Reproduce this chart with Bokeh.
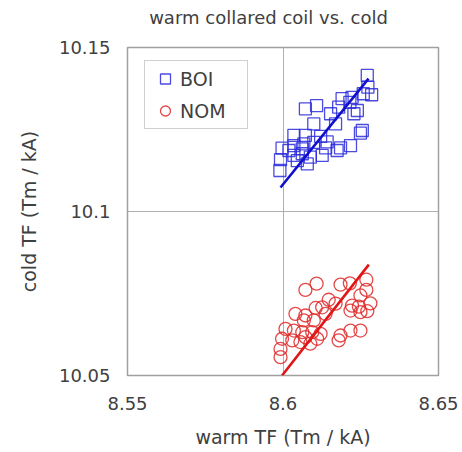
from bokeh.plotting import figure
from bokeh.models import (ColumnDataSource, FixedTicker, CustomJSTickFormatter,
                          Legend, LegendItem, Range1d, Label)
from bokeh.embed import file_html
from bokeh.resources import INLINE

# Transfer function, warm collared coil (x) vs. cold (y), in Tm / kA
boi_warm = [8.6271, 8.6273, 8.6285, 8.6258, 8.6222, 8.6190, 8.6215, 8.6072,
            8.6108, 8.6153, 8.6179, 8.6239, 8.6228, 8.6099, 8.6169, 8.6255,
            8.6249, 8.6035, 8.6072, 8.6121, 8.5997, 8.6035, 8.6067, 8.6099,
            8.6137, 8.6185, 8.6217, 8.6174, 8.6035, 8.6062, 8.6088, 8.6126,
            8.5992, 8.5990, 8.6046, 8.6078, 8.6142, 8.6062, 8.6019]
boi_cold = [10.1415, 10.1379, 10.1356, 10.1359, 10.1348, 10.1344, 10.1333, 10.1313,
            10.1323, 10.1298, 10.1318, 10.1308, 10.1298, 10.1267, 10.1267, 10.1247,
            10.1239, 10.1232, 10.1232, 10.1229, 10.1193, 10.1201, 10.1206, 10.1211,
            10.1194, 10.1194, 10.1201, 10.1186, 10.1171, 10.1176, 10.1166, 10.1171,
            10.1158, 10.1125, 10.1155, 10.1145, 10.1212, 10.1191, 10.1186]

nom_warm = [8.6072, 8.6108, 8.6185, 8.6215, 8.6268, 8.6268, 8.6249, 8.6147,
            8.6169, 8.6105, 8.6126, 8.6222, 8.6244, 8.6281, 8.6040, 8.6072,
            8.6137, 8.6217, 8.6249, 8.6271, 8.6067, 8.6099, 8.6008, 8.6035,
            8.6062, 8.6094, 8.6121, 8.6185, 8.6217, 8.6249, 8.6179, 8.5997,
            8.6030, 8.6056, 8.6088, 8.5992, 8.5992, 8.6072, 8.6110]
nom_cold = [10.0761, 10.0780, 10.0777, 10.0781, 10.0792, 10.0761, 10.0744, 10.0731,
            10.0719, 10.0706, 10.0708, 10.0713, 10.0710, 10.0720, 10.0688, 10.0683,
            10.0688, 10.0698, 10.0693, 10.0696, 10.0668, 10.0668, 10.0642, 10.0637,
            10.0632, 10.0632, 10.0627, 10.0622, 10.0637, 10.0637, 10.0607, 10.0612,
            10.0607, 10.0602, 10.0597, 10.0581, 10.0556, 10.0617, 10.0612]

# Linear fit lines (end points)
boi_fit_warm = [8.5992, 8.6275]
boi_fit_cold = [10.1073, 10.1405]
nom_fit_warm = [8.5997, 8.6276]
nom_fit_cold = [10.0500, 10.0838]

x_ticks = [8.55, 8.6, 8.65]
y_ticks = [10.05, 10.1, 10.15]

FONT = "DejaVu Sans"
TEXT = "#404040"

p = figure(width=462, height=452, output_backend="svg", toolbar_location=None,
           x_range=Range1d(8.55, 8.65), y_range=Range1d(10.05, 10.15),
           min_border_left=127, min_border_right=24, min_border_top=47,
           min_border_bottom=77)

p.outline_line_color = "#a0a0a0"
p.outline_line_width = 1.5
p.background_fill_color = "white"
p.border_fill_color = "white"

fmt = CustomJSTickFormatter(code="return String(parseFloat(tick.toFixed(4)));")
p.xaxis.ticker = FixedTicker(ticks=x_ticks)
p.yaxis.ticker = FixedTicker(ticks=y_ticks)
for ax in (p.xaxis[0], p.yaxis[0]):
    ax.formatter = fmt
    ax.axis_line_color = None
    ax.major_tick_line_color = None
    ax.minor_tick_line_color = None
    ax.major_tick_out = 0
    ax.major_tick_in = 0
    ax.major_label_text_font = FONT
    ax.major_label_text_font_size = "18px"
    ax.major_label_text_color = TEXT
    ax.axis_label_text_font = FONT
    ax.axis_label_text_font_size = "19px"
    ax.axis_label_text_font_style = "normal"
    ax.axis_label_text_color = TEXT

p.xaxis.axis_label = "warm TF (Tm / kA)"
p.yaxis.axis_label = "cold TF (Tm / kA)"
p.xaxis.major_label_standoff = 21
p.yaxis.major_label_standoff = 17
p.xaxis.axis_label_standoff = 13
p.yaxis.axis_label_standoff = 16

p.xgrid.ticker = FixedTicker(ticks=x_ticks)
p.ygrid.ticker = FixedTicker(ticks=y_ticks)
p.grid.grid_line_color = "#b0b0b0"
p.grid.grid_line_width = 1

# Chart title in the top border panel
title = Label(x=141, y=30, x_units="screen", y_units="screen",
              text="warm collared coil vs. cold", text_align="center",
              text_baseline="alphabetic", text_font=FONT,
              text_font_size="18px", text_color=TEXT)
p.add_layout(title, "above")

boi_src = ColumnDataSource(dict(x=boi_warm, y=boi_cold))
nom_src = ColumnDataSource(dict(x=nom_warm, y=nom_cold))

boi_r = p.scatter("x", "y", source=boi_src, marker="square", size=12,
                  fill_color=None, line_color="#2c2cdc", line_alpha=0.85,
                  line_width=1.3)
nom_r = p.scatter("x", "y", source=nom_src, marker="circle", size=13,
                  fill_color=None, line_color="#e02828", line_alpha=0.85,
                  line_width=1.3)

p.line(boi_fit_warm, boi_fit_cold, line_color="#1010cc", line_width=2.6)
p.line(nom_fit_warm, nom_fit_cold, line_color="#e01515", line_width=2.6)

legend = Legend(items=[LegendItem(label="BOI", renderers=[boi_r]),
                       LegendItem(label="NOM", renderers=[nom_r])],
                location=(17, 246), padding=5,
                glyph_width=30, glyph_height=25, label_height=25,
                label_width=62, label_standoff=0, spacing=7,
                border_line_color="#a0a0a0", border_line_width=1,
                background_fill_color="white", background_fill_alpha=1,
                label_text_font=FONT, label_text_font_size="19px",
                label_text_color=TEXT)
p.add_layout(legend)

open("out.html", "w").write(file_html(p, INLINE))
